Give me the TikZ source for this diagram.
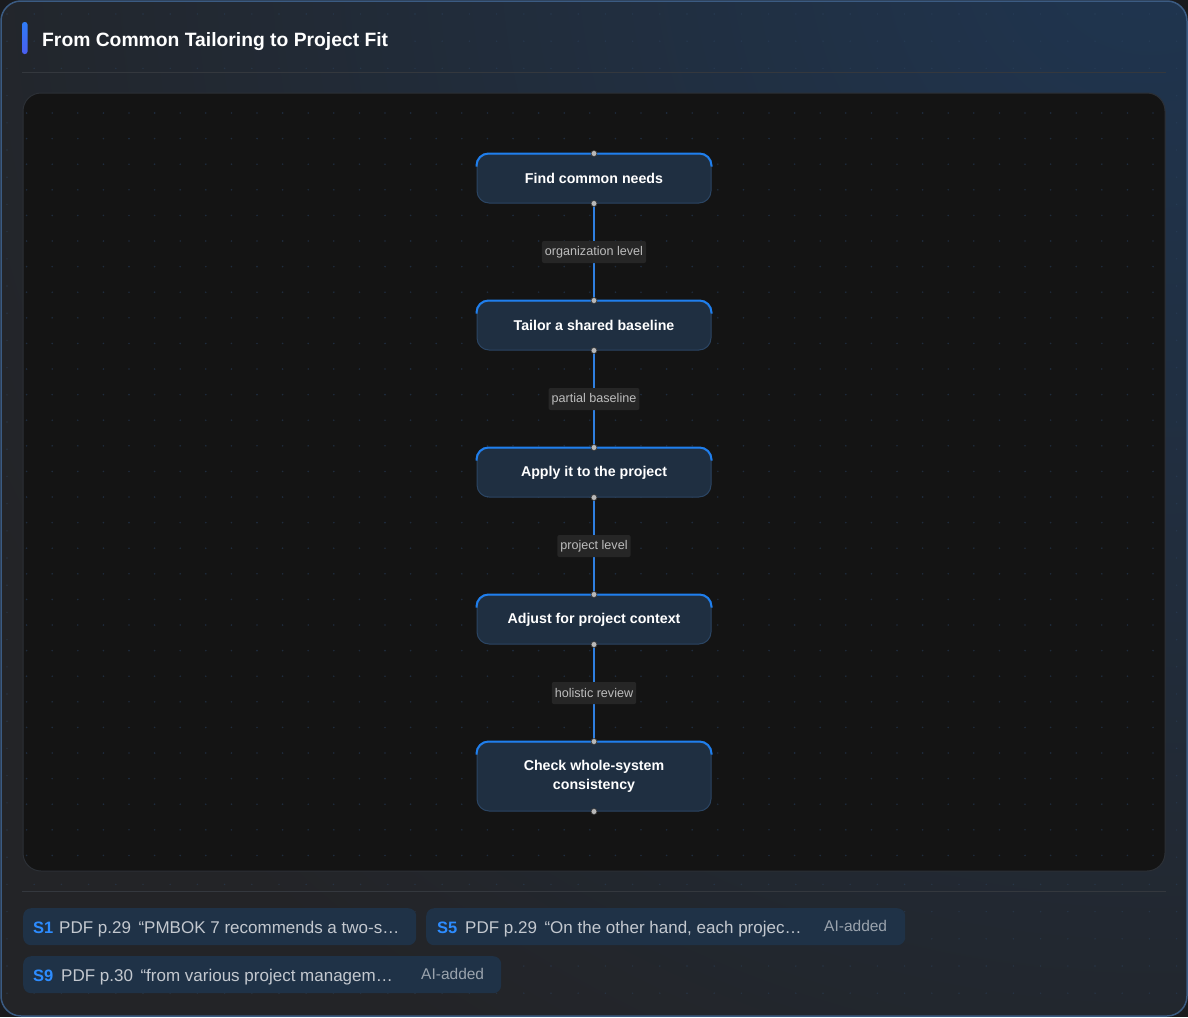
\documentclass[tikz,border=0pt]{standalone}
\usepackage{fontspec}
\setmainfont{Liberation Sans}
\usetikzlibrary{calc}
\definecolor{pagebg}{HTML}{1A1B1E}
\definecolor{framebg}{HTML}{232427}
\definecolor{framehi}{HTML}{1F3550}
\definecolor{framebd}{HTML}{3B5B82}
\definecolor{sepc}{HTML}{34383E}
\definecolor{canvasbg}{HTML}{141414}
\definecolor{canvasbd}{HTML}{2C3036}
\definecolor{dotc}{HTML}{1F2C3D}
\definecolor{odotc}{HTML}{2E4663}
\definecolor{nodebg}{HTML}{1F2F41}
\definecolor{nodebd}{HTML}{2B4563}
\definecolor{nodetop}{HTML}{1F7FEE}
\definecolor{edgec}{HTML}{2F7FE0}
\definecolor{handlec}{HTML}{B8B8B8}
\definecolor{lblbg}{HTML}{262626}
\definecolor{lbltext}{HTML}{BDBDBD}
\definecolor{chipbg}{HTML}{1F3247}
\definecolor{chipS}{HTML}{2D8CFF}
\definecolor{chiptext}{HTML}{C3C8CF}
\definecolor{aitext}{HTML}{9AA3AD}
\definecolor{accentA}{HTML}{2F7CF6}
\definecolor{accentB}{HTML}{4A5EF0}
\begin{document}
\begin{tikzpicture}[x=1pt,y=-1pt,
  stepbox/.style={rectangle, rounded corners=12pt, minimum width=234pt, minimum height=49pt,
    fill=nodebg, draw=nodebd, line width=1pt, text=white,
    font=\bfseries\fontsize{14.2}{19}\selectfont, align=center, inner sep=0pt},
  nodetopline/.style={draw=nodetop, line width=2pt, rounded corners=12pt},
  edge/.style={draw=edgec, line width=1.5pt},
  lbl/.style={fill=lblbg, rounded corners=2pt, text=lbltext,
    font=\fontsize{12.6}{14}\selectfont, inner xsep=3pt, inner ysep=0pt, minimum height=22pt},
  handle/.style={fill=handlec, draw=black!80, line width=0.6pt},
  chip/.style={fill=chipbg, rounded corners=8pt, anchor=north west, minimum height=37pt, inner sep=0pt},
  chipid/.style={anchor=base west, inner sep=0pt, text=chipS, font=\bfseries\fontsize{16.5}{18}\selectfont},
  chiptxt/.style={anchor=base west, inner sep=0pt, text=chiptext, font=\fontsize{17}{18}\selectfont},
  aitag/.style={anchor=base west, inner sep=0pt, text=aitext, font=\fontsize{15.5}{16}\selectfont}
]
\useasboundingbox (0,0) rectangle (1188,1017);
\fill[pagebg] (0,0) rectangle (1188,1017);
% outer frame
\begin{scope}
  \clip[rounded corners=20pt] (1,1) rectangle (1187,1016);
  \fill[framebg] (0,0) rectangle (1188,1017);
  \shade[inner color=framehi, outer color=framebg] (1150,-60) circle[radius=1300];
  \foreach \i in {0,...,43} {
    \foreach \j in {0,...,37} {
      \fill[odotc, opacity=0.45] (7+27.2*\i, 14+27.2*\j) circle[radius=0.8];
    }
  }
\end{scope}
\draw[framebd, line width=1.5pt, rounded corners=20pt] (1,1) rectangle (1187,1016);
% title
\shade[top color=accentA, bottom color=accentB, rounded corners=2.5pt] (22,22) rectangle (27.5,54);
\node[anchor=base west, inner sep=0pt, text=white, font=\bfseries\fontsize{19.3}{21}\selectfont] (title) at (42,46) {From Common Tailoring to Project Fit};
\draw[sepc, line width=1pt] (22,72) -- (1166,72);
% canvas
\fill[canvasbg, rounded corners=18pt] (23,93) rectangle (1165,871);
\foreach \i in {0,...,44} {
  \foreach \j in {0,...,29} {
    \fill[dotc] (26.6+25.6*\i, 113+25.6*\j) circle[radius=0.9];
  }
}
\draw[canvasbd, line width=1pt, rounded corners=18pt] (23,93) rectangle (1165,871);
% nodes
\node[stepbox] (n1) at (594,178.5) {Find common needs};
\node[stepbox] (n2) at (594,325.5) {Tailor a shared baseline};
\node[stepbox] (n3) at (594,472.5) {Apply it to the project};
\node[stepbox] (n4) at (594,619.5) {Adjust for project context};
\node[stepbox, minimum height=69pt] (n5) at (594,776.5) {Check whole-system\\consistency};
\foreach \n in {n1,n2,n3,n4,n5} {
  \draw[nodetopline] ($(\n.north west)+(0,13)$) -- (\n.north west) -- (\n.north east) -- ($(\n.north east)+(0,13)$);
}
% edges
\draw[edge] (n1.south) -- (n2.north) node[midway, lbl] (l1) {organization level};
\draw[edge] (n2.south) -- (n3.north) node[midway, lbl] (l2) {partial baseline};
\draw[edge] (n3.south) -- (n4.north) node[midway, lbl] (l3) {project level};
\draw[edge] (n4.south) -- (n5.north) node[midway, lbl] (l4) {holistic review};
\foreach \n in {n1,n2,n3,n4,n5} {
  \draw[handle] (\n.north) circle[radius=3];
  \draw[handle] (\n.south) circle[radius=3];
}
% bottom
\draw[sepc, line width=1pt] (22,891) -- (1166,891);
\node[chip, minimum width=393pt] (c1) at (23,908) {};
\node[chip, minimum width=479pt] (c2) at (426,908) {};
\node[chip, minimum width=478pt] (c3) at (23,956) {};
\node[chipid] (c1id) at (33,933.5) {S1};
\node[chiptxt] (c1t) at (59,933.5) {PDF p.29 \,“PMBOK 7 recommends a two-s…};
\node[chipid] (c2id) at (437,933.5) {S5};
\node[chiptxt] (c2t) at (465,933.5) {PDF p.29 \,“On the other hand, each projec…};
\node[aitag] (c2a) at (824,931) {AI-added};
\node[chipid] (c3id) at (33,981.5) {S9};
\node[chiptxt] (c3t) at (61,981.5) {PDF p.30 \,“from various project managem…};
\node[aitag] (c3a) at (421,979) {AI-added};
\end{tikzpicture}
\end{document}
